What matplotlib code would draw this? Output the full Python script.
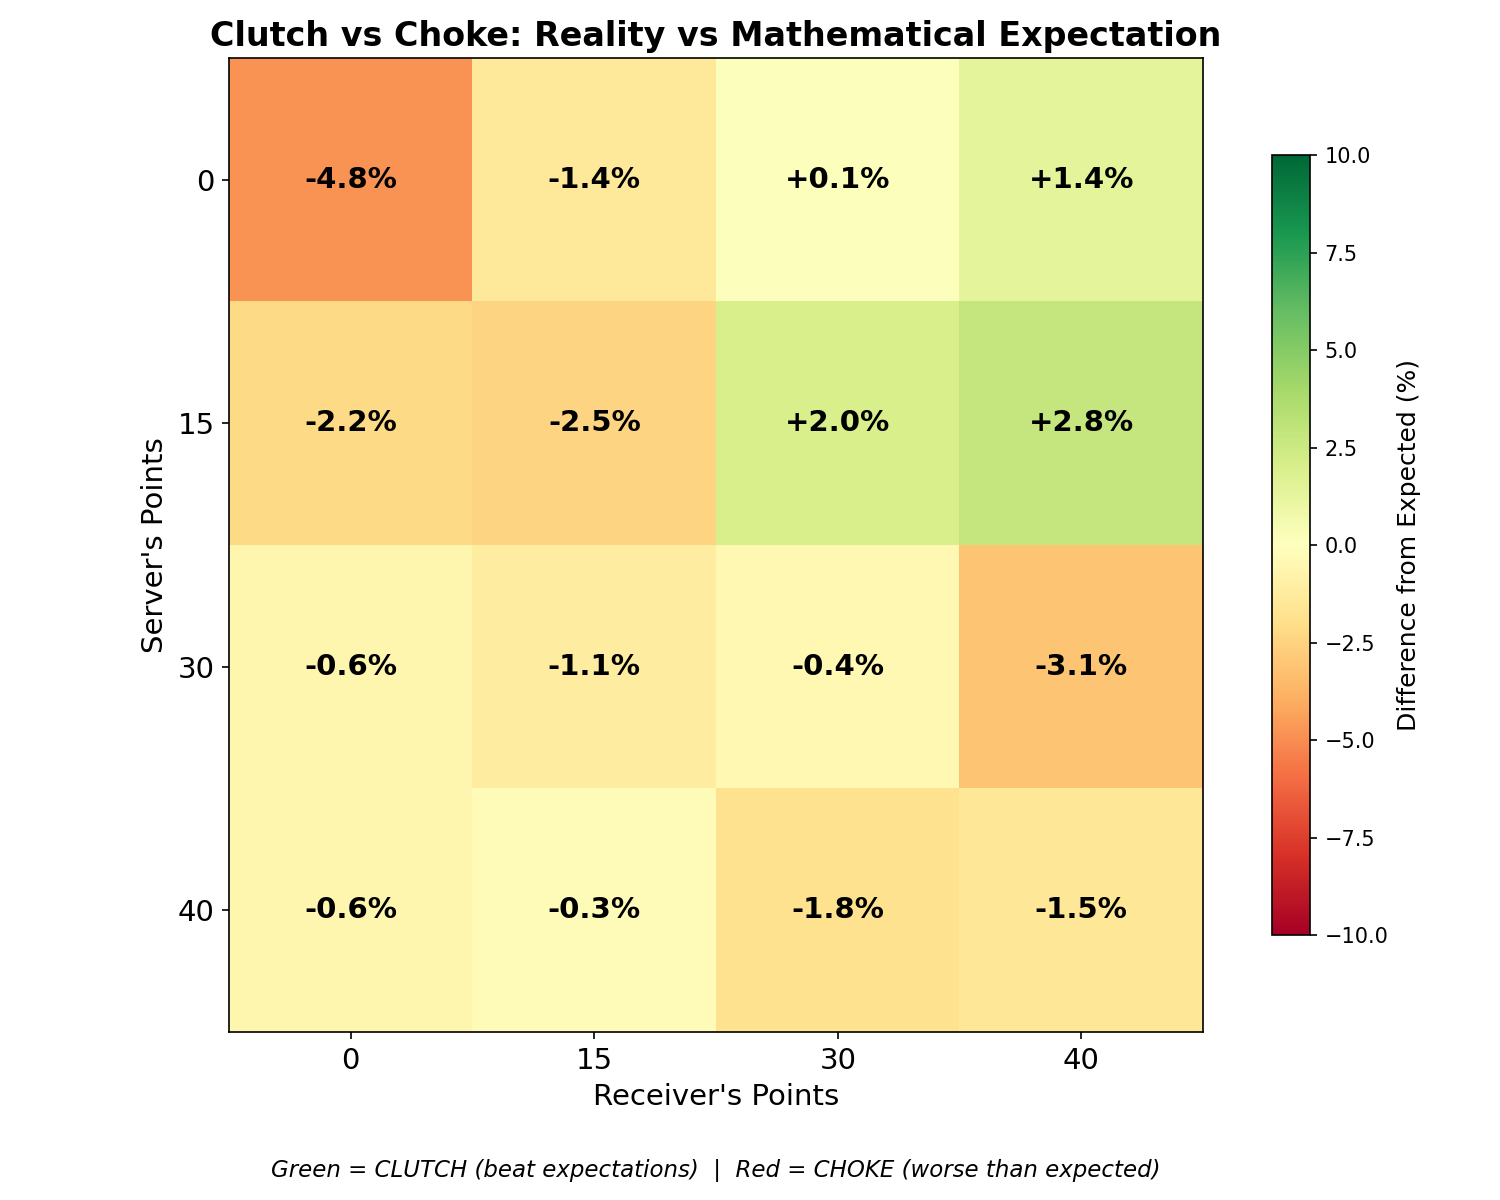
import numpy as np
import matplotlib
matplotlib.use("Agg")
import matplotlib.pyplot as plt

server_points = ["0", "15", "30", "40"]
receiver_points = ["0", "15", "30", "40"]
diff_pct = [
    [-4.8, -1.4, 0.1, 1.4],
    [-2.2, -2.5, 2.0, 2.8],
    [-0.6, -1.1, -0.4, -3.1],
    [-0.6, -0.3, -1.8, -1.5],
]

data = np.array(diff_pct)

fig = plt.figure(figsize=(10, 8), dpi=150)
ax = fig.add_axes([0.1527, 0.14, 0.6493, 0.8117])
cax = fig.add_axes([0.848, 0.2208, 0.0253, 0.65])

im = ax.imshow(data, cmap="RdYlGn", vmin=-10, vmax=10, aspect="equal")

ax.set_xticks(range(len(receiver_points)))
ax.set_xticklabels(receiver_points, fontsize=14)
ax.set_yticks(range(len(server_points)))
ax.set_yticklabels(server_points, fontsize=14)
ax.set_xlabel("Receiver's Points", fontsize=14)
ax.set_ylabel("Server's Points", fontsize=14)
ax.set_title("Clutch vs Choke: Reality vs Mathematical Expectation",
             fontsize=16, fontweight="bold")

for i in range(data.shape[0]):
    for j in range(data.shape[1]):
        v = data[i, j]
        ax.text(j, i, f"{v:+.1f}%", ha="center", va="center",
                fontsize=14, fontweight="bold", color="black")

cbar = fig.colorbar(im, cax=cax)
cbar.set_label("Difference from Expected (%)", fontsize=12)

fig.text(0.477, 0.025,
         "Green = CLUTCH (beat expectations)  |  Red = CHOKE (worse than expected)",
         ha="center", va="center", fontsize=11, style="italic")

plt.savefig("out.png")
